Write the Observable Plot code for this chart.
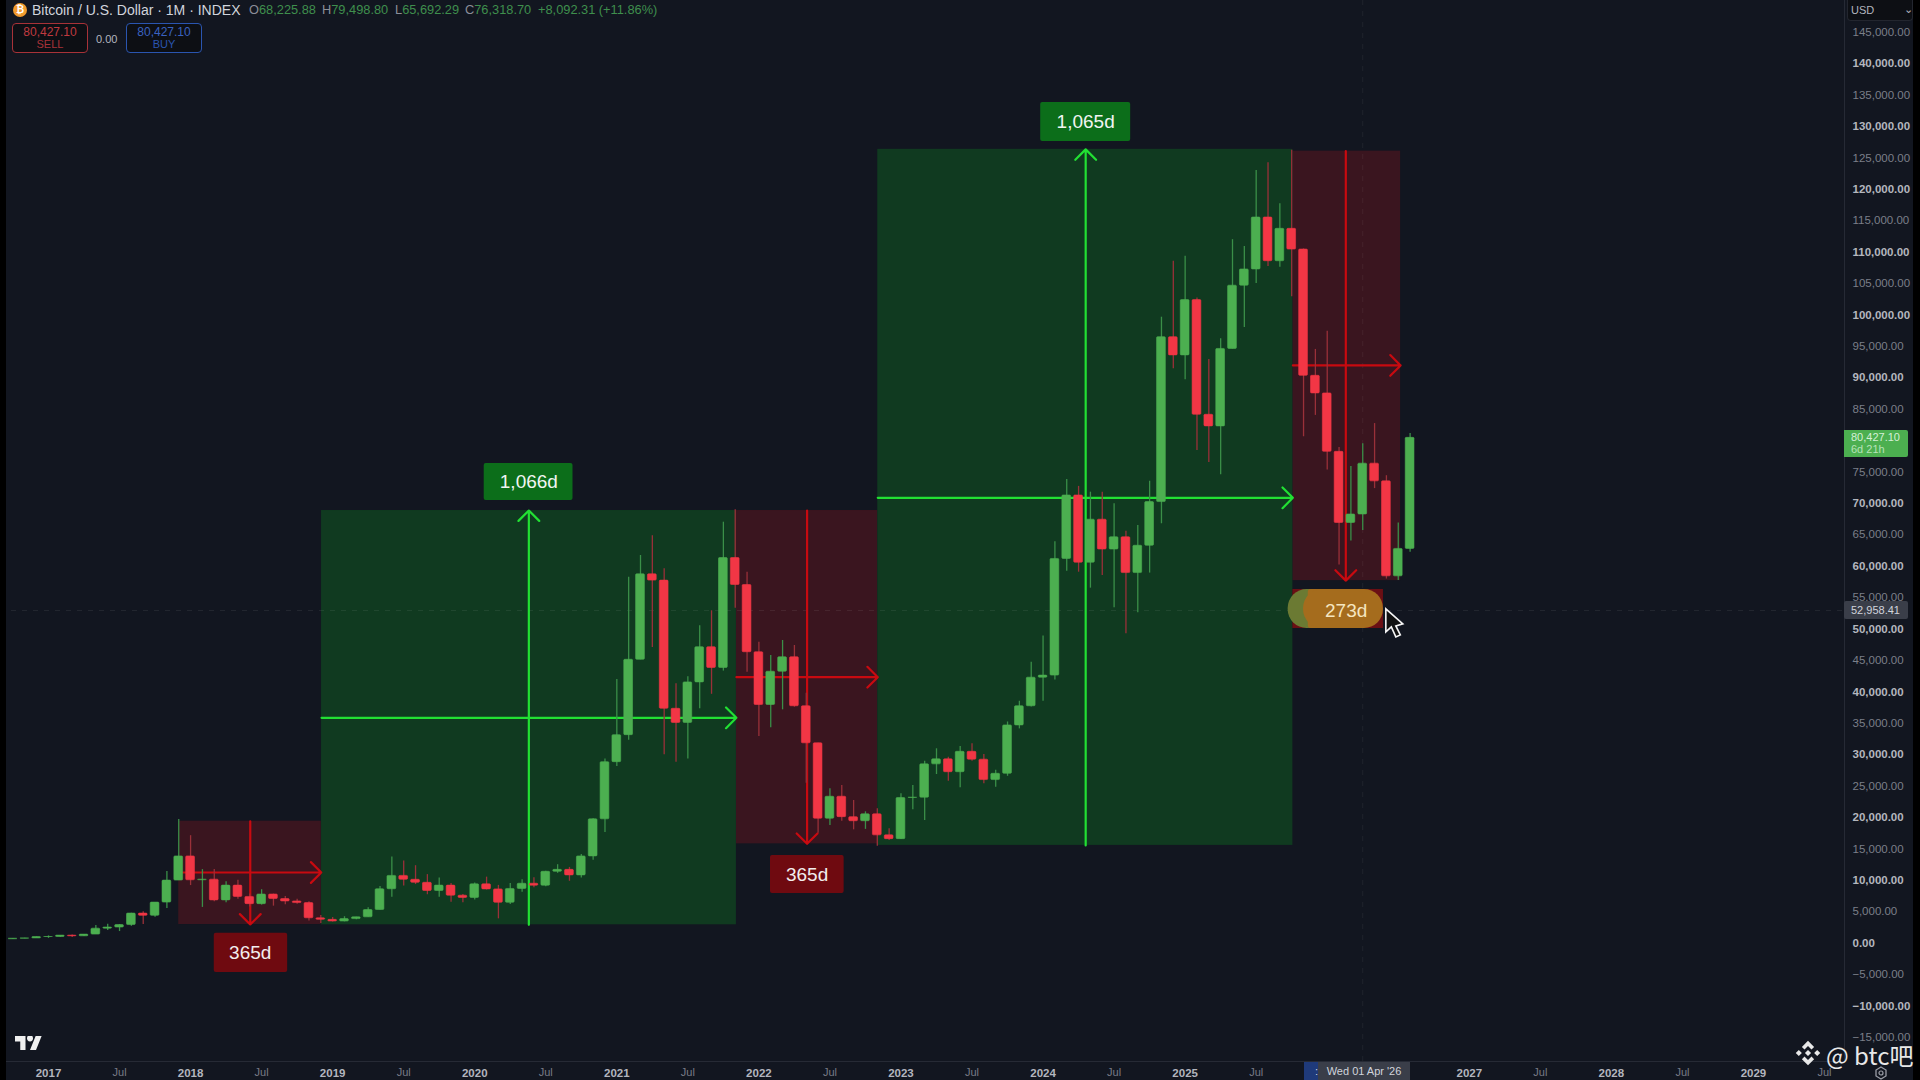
<!DOCTYPE html>
<html>
<head>
<meta charset="utf-8">
<script src="https://cdn.jsdelivr.net/npm/d3@7"></script>
<script src="https://cdn.jsdelivr.net/npm/@observablehq/plot@0.6"></script>
<style>
  html, body { margin:0; padding:0; width:1920px; height:1080px; overflow:hidden; background:#121620; }
  #stage { position:relative; width:1920px; height:1080px; background:#121620; font-family:"Liberation Sans",Roboto,sans-serif; color:#d1d4dc; }
  #chart { position:absolute; left:0; top:0; }
  .abs { position:absolute; white-space:nowrap; }
  .v { color:#3f8f4d; } .k { color:#8a8e98; }
  .ohlc { top:3px; font-size:12.8px; line-height:14px; }
</style>
</head>
<body>
<div id="stage">
  <div id="chart"></div>
  <div class="abs" style="left:0;top:0;width:6px;height:1080px;background:#000"></div>
  <div class="abs" style="left:1913px;top:0;width:7px;height:1080px;background:#000"></div>

  <div class="abs" style="left:13px;top:3px;width:14px;height:14px;border-radius:50%;background:#f09a2e;color:#fff;font-size:10px;font-weight:700;line-height:14px;text-align:center">₿</div>
  <div class="abs" style="left:32px;top:2px;font-size:14px;line-height:16px;color:#d1d4dc">Bitcoin / U.S. Dollar · 1M · INDEX</div>
  <div class="abs k ohlc" style="left:249px">O<span class="v">68,225.88</span></div>
  <div class="abs k ohlc" style="left:322px">H<span class="v">79,498.80</span></div>
  <div class="abs k ohlc" style="left:395px">L<span class="v">65,692.29</span></div>
  <div class="abs k ohlc" style="left:465px">C<span class="v">76,318.70</span></div>
  <div class="abs v ohlc" style="left:538px">+8,092.31 (+11.86%)</div>

  <div class="abs" style="left:12px;top:23px;width:76px;height:30px;box-sizing:border-box;border:1.5px solid #a83238;border-radius:4px;background:#0d0f14;text-align:center;color:#c03a40;font-size:12px;line-height:12px;padding-top:2px">80,427.10<br><span style="color:#a83238;font-size:11px">SELL</span></div>
  <div class="abs" style="left:96px;top:32px;font-size:11px;line-height:14px;color:#b2b5be">0.00</div>
  <div class="abs" style="left:126px;top:23px;width:76px;height:30px;box-sizing:border-box;border:1.5px solid #2a55b0;border-radius:4px;background:#0d0f14;text-align:center;color:#3a62c0;font-size:12px;line-height:12px;padding-top:2px">80,427.10<br><span style="color:#2a55b0;font-size:11px">BUY</span></div>

  <div class="abs" style="left:1847px;top:0;width:66px;height:21px;box-sizing:border-box;background:#0d0f14;border-radius:0 0 4px 4px;border:1px solid #23262f;border-top:0;font-size:11px;line-height:20px;padding-left:3px;color:#b2b5be">USD<span class="abs" style="left:56px;top:-1px">⌄</span></div>

  <div class="abs" style="left:1844px;top:430px;width:64px;height:27px;background:#4caf50;border-radius:0 2px 2px 0;font-size:11px;line-height:12px;color:#d5f0d6;padding:1px 0 0 7px;box-sizing:border-box">80,427.10<br><span style="color:#b7e2b9">6d 21h</span></div>
  <div class="abs" style="left:1844px;top:601px;width:64px;height:18px;background:#3a3e49;border-radius:2px;font-size:11px;line-height:18px;color:#d1d4dc;padding-left:7px;box-sizing:border-box">52,958.41</div>

  <div class="abs" style="left:1304px;top:1062px;width:14px;height:18px;background:#1f3a7a;font-size:11px;line-height:18px;color:#d1d4dc;text-align:right">:</div>
  <div class="abs" style="left:1318px;top:1062px;width:92px;height:18px;background:#3a3e49;font-size:11px;line-height:18px;color:#d1d4dc;text-align:center">Wed 01 Apr '26</div>

  <svg class="abs" style="left:15px;top:1036px" width="27" height="14" viewBox="0 4 36 18" preserveAspectRatio="none"><path fill="#f0f0f0" d="M14 22H7V11H0V4h14v18zM28 22h-8l7.5-18h8L28 22z"/><circle fill="#f0f0f0" cx="20" cy="7" r="4"/></svg>

  <svg class="abs" style="left:1794px;top:1039px" width="28" height="28" viewBox="0 0 32 32"><path fill="#e8e8e8" d="M16 2l7 7-3 3-4-4-4 4-3-3zM16 30l-7-7 3-3 4 4 4-4 3 3zM5.5 12.5l3.5 3.5-3.5 3.5L2 16zM26.500 12.500l3.500 3.500-3.500 3.500L23 16zM16 12.500l3.500 3.500-3.500 3.500-3.500-3.500z"/></svg>
  <div class="abs" style="left:1826px;top:1044px;font-size:24px;line-height:22px;color:#e8e8e8;font-family:'Noto Sans CJK SC','Liberation Sans',sans-serif">@ btc吧</div>

  <svg class="abs" style="left:1874px;top:1066px" width="14" height="14" viewBox="0 0 14 14"><path fill="none" stroke="#9a9da6" stroke-width="1.3" d="M7 1l5 3v6l-5 3-5-3V4z"/><circle cx="7" cy="7" r="2" fill="none" stroke="#9a9da6" stroke-width="1.2"/></svg>
</div>

<script>
// Bar index 0 = Jan 2017; the first bar is Oct 2016 (index -3).
const firstBar = -3;

const opens = [
  610,700,745,
  965,970,1190,1080,1350,2300,2480,2870,4700,4340,6450,9950,
  13800,10000,10100,6800,9150,7350,6200,7730,7010,6630,6370,3950,
  3700,3440,3820,4100,5270,8570,10700,10080,9600,8290,9150,7550,
  7190,9350,8550,6420,8620,9450,9140,11350,11660,10780,13800,19700,
  28800,33100,45100,58700,57700,37300,35050,41500,47100,43800,61300,57000,
  46300,37900,43200,45500,37700,31800,19800,23300,20050,19400,20500,17150,
  16550,23100,23150,28450,29250,27200,30450,29200,25950,26950,34650,37700,
  42250,42580,61150,71250,60550,67400,62650,64600,58900,63250,70200,96450,
  93550,102350,84100,82250,94580,104650,107230,115500,108540,113700,110400,90300,
  87500,78200,66870,68225.88,76318.70,73500,58380,62750
];
const highs = [
  740,755,980,
  1150,1200,1300,1350,2790,3000,2950,4750,5000,6450,11400,19680,
  17100,11700,11700,9750,10000,7800,8500,7800,7400,7000,6570,4400,
  4070,4200,4100,5630,9000,13700,13050,12320,10900,10350,9500,7750,
  9550,10500,9190,9480,10070,10400,11450,12480,12050,14100,19800,29300,
  41960,58250,61700,64850,59600,41300,42400,50500,52900,67000,69000,59040,
  47900,45780,48170,47370,39780,31800,24560,25090,22700,20900,21370,18190,
  23760,25090,28960,30930,29590,31300,31720,30020,27500,35200,38500,44700,
  48900,63900,73800,72700,71780,71780,69930,65570,66470,73520,99630,108540,
  109350,102700,92900,96200,111970,110870,123000,124200,117700,126200,110500,94500,
  97400,78900,75870,79498.80,82700,74400,66870,81100
];
const lows = [
  600,690,740,
  750,920,890,1060,1350,2000,1840,2670,2950,4100,5500,9950,
  9160,5680,6600,6430,7000,5750,6050,5880,6100,6200,3500,3120,
  3340,3380,3700,4100,5270,7310,9100,9320,7700,7300,6500,6430,
  6850,8450,3860,6150,8100,8830,8970,11100,9840,10370,13200,17600,
  28130,32300,45100,47050,30000,28800,29300,37300,39600,43300,53300,43100,
  32890,34270,37130,37550,25450,17490,18720,19400,18030,18100,15420,16330,
  16500,21220,19510,26840,25770,24720,28960,25350,24820,26550,34100,37600,
  38500,41900,59200,59040,56500,58500,53370,49230,52570,58900,66750,91440,
  89680,78430,76500,74570,94580,98000,105000,107700,107600,102900,80600,84000,
  75300,60200,64020,65692.29,72350,57950,57700,62200
];
const closes = [
  700,745,965,
  970,1190,1080,1350,2300,2480,2870,4700,4340,6450,9950,13800,
  10000,10100,6800,9150,7350,6200,7730,7010,6630,6370,3950,3700,
  3440,3820,4100,5270,8570,10700,10080,9600,8290,9150,7550,7190,
  9350,8550,6420,8620,9450,9140,11350,11660,10780,13800,19700,28800,
  33100,45100,58700,57700,37300,35050,41500,47100,43800,61300,57000,46300,
  37900,43200,45500,37700,31800,19800,23300,20050,19400,20500,17150,16550,
  23100,23150,28450,29250,27200,30450,29200,25950,26950,34650,37700,42250,
  42580,61150,71250,60550,67400,62650,64600,58900,63250,70200,96450,93550,
  102350,84100,82250,94580,104650,107230,115500,108540,113700,110400,90300,87500,
  78200,66870,68225.88,76318.70,73500,58380,62750,80427.10
];

const yearTicks = [0,12,24,36,48,60,72,84,96,120,132,144];
const julyTicks = [6,18,30,42,54,66,78,90,102,126,138,150];
const priceMajor = [140000,130000,120000,110000,100000,90000,80000,70000,60000,50000,40000,30000,20000,10000,0,-10000];
const priceMinor = [145000,135000,125000,115000,105000,95000,85000,75000,65000,55000,45000,35000,25000,15000,5000,-5000,-15000];

// Date-range tool regions, in bar index and price.
const greenZones = [
  {start:23.06, end:58.1, top:68860, bottom:2910, midX:40.57, midY:35860},
  {start:70.04, end:105.1, top:126350, bottom:15550, midX:87.6, midY:70880}
];
const redZones = [
  {start:11, end:23.04, top:19400, bottom:2960, midX:17.04, midY:11240},
  {start:58.1, end:70.04, top:68860, bottom:15800, midX:64.07, midY:42330},
  {start:105.1, end:114.2, top:126060, bottom:57700, midX:109.57, midY:91950}
];
const greenTags = [
  {x1:36.8, x2:44.3, y1:76350, y2:70450, tx:40.57, ty:73400, text:"1,066d"},
  {x1:83.8, x2:91.4, y1:133800, y2:127600, tx:87.6, ty:130700, text:"1,065d"}
];
const redTags = [
  {x1:14, x2:20.2, y1:1576, y2:-4680, tx:17.04, ty:-1590, text:"365d"},
  {x1:60.98, x2:67.2, y1:13950, y2:7900, tx:64.07, ty:10920, text:"365d"}
];
const pill = {x1:104.7, split:106.4, mid:108, x2:112.75, y1:56290, y2:50080, tx:109.6, ty:52958.41, text:"273d"};

const crosshairBar = 111;  // Apr 2026
const crosshairPrice = 52958.41;

const cursorShape = {
  draw(ctx) {
    ctx.moveTo(0,0); ctx.lineTo(0,23); ctx.lineTo(5.5,18); ctx.lineTo(10,28);
    ctx.lineTo(14.5,26); ctx.lineTo(10,17); ctx.lineTo(17,15); ctx.closePath();
  }
};

const candles = opens.map((o,k) => ({i:firstBar+k, open:o, high:highs[k], low:lows[k], close:closes[k]}));
const up = candles.filter(d => d.close >= d.open);
const down = candles.filter(d => d.close < d.open);

const GREEN="#4caf50", RED="#f23645", LG="#22e033", LR="#c80a10";
const bodyHalf = 0.37;
const lineW = 2.2, head = 10;

const plot = Plot.plot({
  width:1920, height:1080,
  marginLeft:0, marginRight:76, marginTop:0, marginBottom:19,
  style:{background:"transparent", fontFamily:"'Liberation Sans',Roboto,sans-serif", fontSize:"11px"},
  x:{type:"linear", domain:[-48/11.84,(1844-48)/11.84], axis:null},
  y:{type:"linear", domain:[-18847,150044], axis:null},
  marks:[
    Plot.frame({anchor:"right", stroke:"#262a35"}),
    Plot.frame({anchor:"bottom", stroke:"#262a35"}),
    Plot.rect(redZones,{x1:"start",x2:"end",y1:"bottom",y2:"top",fill:"#3a151f"}),
    Plot.rect(greenZones,{x1:"start",x2:"end",y1:"bottom",y2:"top",fill:"#103a20"}),
    Plot.ruleY([crosshairPrice],{stroke:"#ffffff", strokeOpacity:0.08, strokeDasharray:"5,6"}),
    Plot.ruleX([crosshairBar],{stroke:"#ffffff", strokeOpacity:0.06, strokeDasharray:"5,6"}),

    Plot.arrow(greenZones,{x1:"start",x2:"end",y1:"midY",y2:"midY",stroke:LG,strokeWidth:lineW,headAngle:90,headLength:head}),
    Plot.arrow(greenZones,{x1:"midX",x2:"midX",y1:"bottom",y2:"top",stroke:LG,strokeWidth:lineW,headAngle:90,headLength:head}),
    Plot.arrow(redZones,{x1:"start",x2:"end",y1:"midY",y2:"midY",stroke:LR,strokeWidth:lineW,headAngle:90,headLength:head}),
    Plot.arrow(redZones,{x1:"midX",x2:"midX",y1:"top",y2:"bottom",stroke:LR,strokeWidth:lineW,headAngle:90,headLength:head}),

    Plot.ruleX(up,{x:"i",y1:"low",y2:"high",stroke:"#3a8f48",strokeWidth:1.3}),
    Plot.ruleX(down,{x:"i",y1:"low",y2:"high",stroke:"#9a3039",strokeWidth:1.3}),
    Plot.rect(up,{x1:d=>d.i-bodyHalf,x2:d=>d.i+bodyHalf,y1:"open",y2:"close",fill:GREEN,stroke:GREEN,strokeWidth:0.6,rx:1}),
    Plot.rect(down,{x1:d=>d.i-bodyHalf,x2:d=>d.i+bodyHalf,y1:"open",y2:"close",fill:RED,stroke:RED,strokeWidth:0.6,rx:1}),

    Plot.rect(greenTags,{x1:"x1",x2:"x2",y1:"y1",y2:"y2",fill:"#0c6e1a",rx:2}),
    Plot.rect(redTags,{x1:"x1",x2:"x2",y1:"y1",y2:"y2",fill:"#6f0a10",rx:2}),
    Plot.text(greenTags,{x:"tx",y:"ty",text:"text",fill:"#f2f5f2",fontSize:19,fontFamily:"'Liberation Sans',sans-serif"}),
    Plot.text(redTags,{x:"tx",y:"ty",text:"text",fill:"#f2eeee",fontSize:19,fontFamily:"'Liberation Sans',sans-serif"}),

    Plot.rect([pill],{x1:d=>d.x1+0.4,x2:"x2",y1:"y1",y2:"y2",fill:"#6a0f14"}),
    Plot.rect([pill],{x1:"x1",x2:d=>d.mid+2,y1:"y1",y2:"y2",fill:"#6b7a33",rx:19}),
    Plot.rect([pill],{x1:"split",x2:"mid",y1:"y1",y2:"y2",fill:"#a56c1d",rx:3}),
    Plot.rect([pill],{x1:d=>d.mid-2,x2:"x2",y1:"y1",y2:"y2",fill:"#a56c1d",rx:19}),
    Plot.text([pill],{x:"tx",y:"ty",text:"text",fill:"#f5e6c0",fontSize:19,fontFamily:"'Liberation Sans',sans-serif"}),
    Plot.dot([{i:112.95,v:53200}],{x:"i",y:"v",symbol:cursorShape,r:5,fill:"#111",stroke:"#f5f5f5",strokeWidth:1.6}),

    Plot.axisY(priceMinor,{anchor:"right",tickSize:0,tickPadding:8,label:null,tickFormat:d3.format(",.2f"),fill:"#7b7f89",fontSize:11.5}),
    Plot.axisY(priceMajor,{anchor:"right",tickSize:0,tickPadding:8,label:null,tickFormat:d3.format(",.2f"),fill:"#b4b7be",fontWeight:700,fontSize:11.5}),
    Plot.axisX(yearTicks,{anchor:"bottom",tickSize:0,tickPadding:7,label:null,tickFormat:d=>String(2017+d/12),fill:"#b2b5be",fontWeight:700,fontSize:11.5}),
    Plot.axisX(julyTicks,{anchor:"bottom",tickSize:0,tickPadding:7,label:null,tickFormat:()=>"Jul",fill:"#787b86",fontSize:11})
  ]
});
document.getElementById("chart").appendChild(plot);
</script>
</body>
</html>
